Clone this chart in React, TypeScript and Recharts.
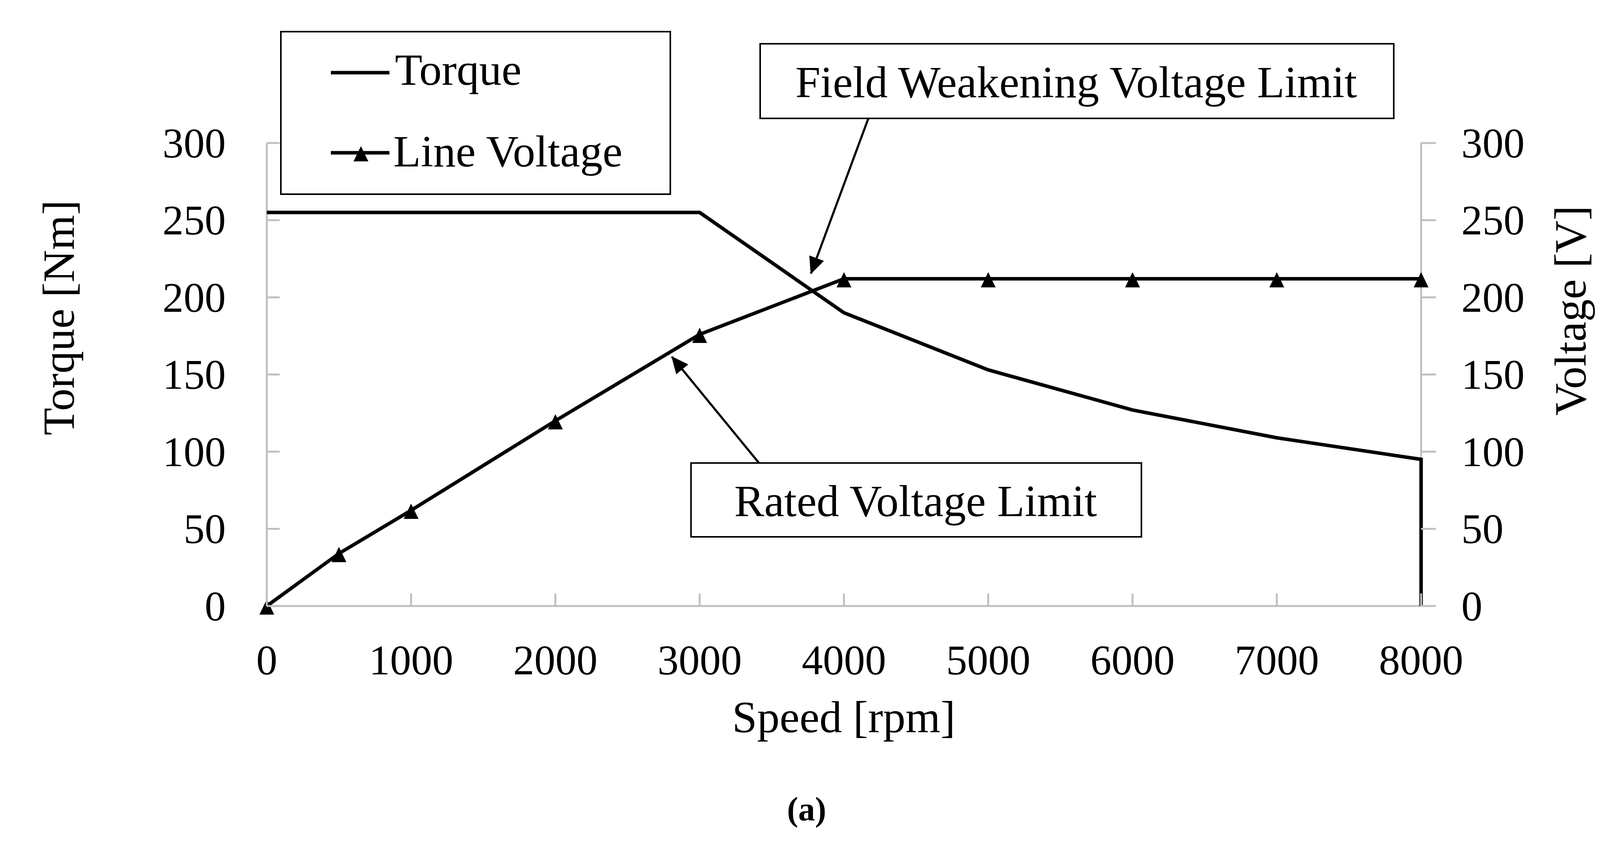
import React from "react";
import { ComposedChart, Line, XAxis, YAxis } from "recharts";

const W = 4146;
const H = 2155;
const FONT = "'Liberation Serif', 'Times New Roman', serif";
const AXIS_GREY = "#c0c0c0";

const speedTicks = [0, 1000, 2000, 3000, 4000, 5000, 6000, 7000, 8000];
const valueTicks = [0, 50, 100, 150, 200, 250, 300];

// Torque curve (drops to 0 at the last speed)
const torqueSpeed = [0, 3000, 4000, 5000, 6000, 7000, 8000, 8000];
const torqueNm = [255, 255, 190, 153, 127, 109, 95, 0];

// Line voltage with markers
const voltageSpeed = [0, 500, 1000, 2000, 3000, 4000, 5000, 6000, 7000, 8000];
const lineVoltage = [0, 34, 62, 120, 176, 212, 212, 212, 212, 212];

const torqueData = torqueSpeed.map((s, i) => ({ speed: s, torque: torqueNm[i] }));
const voltageData = voltageSpeed.map((s, i) => ({ speed: s, voltage: lineVoltage[i] }));

function Triangle({ cx, cy }: { cx?: number; cy?: number }) {
  if (cx == null || cy == null) return null;
  return (
    <path
      d={`M${cx},${cy - 17} L${cx + 19},${cy + 22} L${cx - 19},${cy + 22} Z`}
      fill="#000"
    />
  );
}

function LeftTick({ x, y, payload }: any) {
  return (
    <g>
      <line x1={x} x2={x + 33} y1={y} y2={y} stroke={AXIS_GREY} strokeWidth={5} />
      <text
        x={x - 105}
        y={y}
        textAnchor="end"
        dominantBaseline="central"
        fontFamily={FONT}
        fontSize={108}
        fill="#000"
      >
        {payload.value}
      </text>
    </g>
  );
}

function RightTick({ x, y, payload }: any) {
  return (
    <g>
      <line x1={x} x2={x + 38} y1={y} y2={y} stroke={AXIS_GREY} strokeWidth={5} />
      <text
        x={x + 103}
        y={y}
        textAnchor="start"
        dominantBaseline="central"
        fontFamily={FONT}
        fontSize={108}
        fill="#000"
      >
        {payload.value}
      </text>
    </g>
  );
}

function BottomTick({ x, y, payload }: any) {
  return (
    <g>
      <line x1={x} x2={x} y1={y - 32} y2={y} stroke={AXIS_GREY} strokeWidth={5} />
      <text
        x={x}
        y={y + 138}
        textAnchor="middle"
        dominantBaseline="central"
        fontFamily={FONT}
        fontSize={108}
        fill="#000"
      >
        {payload.value}
      </text>
    </g>
  );
}

function Overlay() {
  const txt = { fontFamily: FONT, fontSize: 115, fill: "#000" };
  return (
    <svg
      width={W}
      height={H}
      style={{ position: "absolute", left: 0, top: 0, pointerEvents: "none" }}
    >
      <defs>
        <marker
          id="head"
          markerUnits="userSpaceOnUse"
          markerWidth={48}
          markerHeight={44}
          refX={42}
          refY={20}
          orient="auto"
        >
          <path d="M0,0 L44,20 L0,40 Z" fill="#000" />
        </marker>
      </defs>

      {/* legend */}
      <rect x={719} y={81} width={997} height={416} fill="#fff" stroke="#000" strokeWidth={4} />
      <line x1={847} x2={997} y1={186} y2={186} stroke="#000" strokeWidth={9} />
      <text x={1011} y={217} {...txt}>Torque</text>
      <line x1={847} x2={997} y1={391} y2={391} stroke="#000" strokeWidth={9} />
      <Triangle cx={924} cy={391} />
      <text x={1007} y={426} {...txt}>Line Voltage</text>

      {/* annotations */}
      <rect x={1946} y={112} width={1622} height={191} fill="#fff" stroke="#000" strokeWidth={4} />
      <text x={2755} y={249} textAnchor="middle" {...txt}>Field Weakening Voltage Limit</text>
      <line x1={2223} y1={303} x2={2076} y2={700} stroke="#000" strokeWidth={5.5} markerEnd="url(#head)" />

      <rect x={1769} y={1185} width={1153} height={189} fill="#fff" stroke="#000" strokeWidth={4} />
      <text x={2344} y={1321} textAnchor="middle" {...txt}>Rated Voltage Limit</text>
      <line x1={1943} y1={1185} x2={1720} y2={913} stroke="#000" strokeWidth={5.5} markerEnd="url(#head)" />

      {/* axis titles */}
      <text
        x={150}
        y={813}
        transform="rotate(-90 150 813)"
        textAnchor="middle"
        dominantBaseline="central"
        {...txt}
      >
        Torque [Nm]
      </text>
      <text
        x={4020}
        y={795}
        transform="rotate(-90 4020 795)"
        textAnchor="middle"
        dominantBaseline="central"
        {...txt}
      >
        Voltage [V]
      </text>
      <text x={2160} y={1874} textAnchor="middle" {...txt}>Speed [rpm]</text>
      <text x={2065} y={2100} textAnchor="middle" fontFamily={FONT} fontSize={86} fontWeight="bold">
        (a)
      </text>
    </svg>
  );
}

export default function App() {
  return (
    <div style={{ position: "relative", width: W, height: H, background: "#fff" }}>
      <style>{"body{margin:0;background:#fff}"}</style>
      <ComposedChart
        width={W}
        height={H}
        margin={{ top: 366, right: 308, left: 483, bottom: 404 }}
      >
        <XAxis
          xAxisId="x"
          type="number"
          dataKey="speed"
          domain={[0, 8000]}
          ticks={speedTicks}
          interval={0}
          height={200}
          tickSize={0}
          tickMargin={0}
          tickLine={false}
          axisLine={{ stroke: AXIS_GREY, strokeWidth: 5 }}
          tick={(p: any) => <BottomTick {...p} />}
        />
        <YAxis
          yAxisId="left"
          orientation="left"
          type="number"
          domain={[0, 300]}
          ticks={valueTicks}
          interval={0}
          width={200}
          tickSize={0}
          tickMargin={0}
          tickLine={false}
          axisLine={{ stroke: AXIS_GREY, strokeWidth: 5 }}
          tick={(p: any) => <LeftTick {...p} />}
        />
        <YAxis
          yAxisId="right"
          orientation="right"
          type="number"
          domain={[0, 300]}
          ticks={valueTicks}
          interval={0}
          width={200}
          tickSize={0}
          tickMargin={0}
          tickLine={false}
          axisLine={{ stroke: AXIS_GREY, strokeWidth: 5 }}
          tick={(p: any) => <RightTick {...p} />}
        />
        <Line
          data={torqueData}
          xAxisId="x"
          yAxisId="left"
          type="linear"
          dataKey="torque"
          stroke="#000"
          strokeWidth={9}
          dot={false}
          activeDot={false}
          isAnimationActive={false}
          {...({ zIndex: 700 } as any)}
        />
        <Line
          data={voltageData}
          xAxisId="x"
          yAxisId="right"
          type="linear"
          dataKey="voltage"
          stroke="#000"
          strokeWidth={9}
          dot={(p: any) => <Triangle key={p.index} cx={p.cx} cy={p.cy} />}
          activeDot={false}
          isAnimationActive={false}
          {...({ zIndex: 700 } as any)}
        />
      </ComposedChart>
      <Overlay />
    </div>
  );
}
